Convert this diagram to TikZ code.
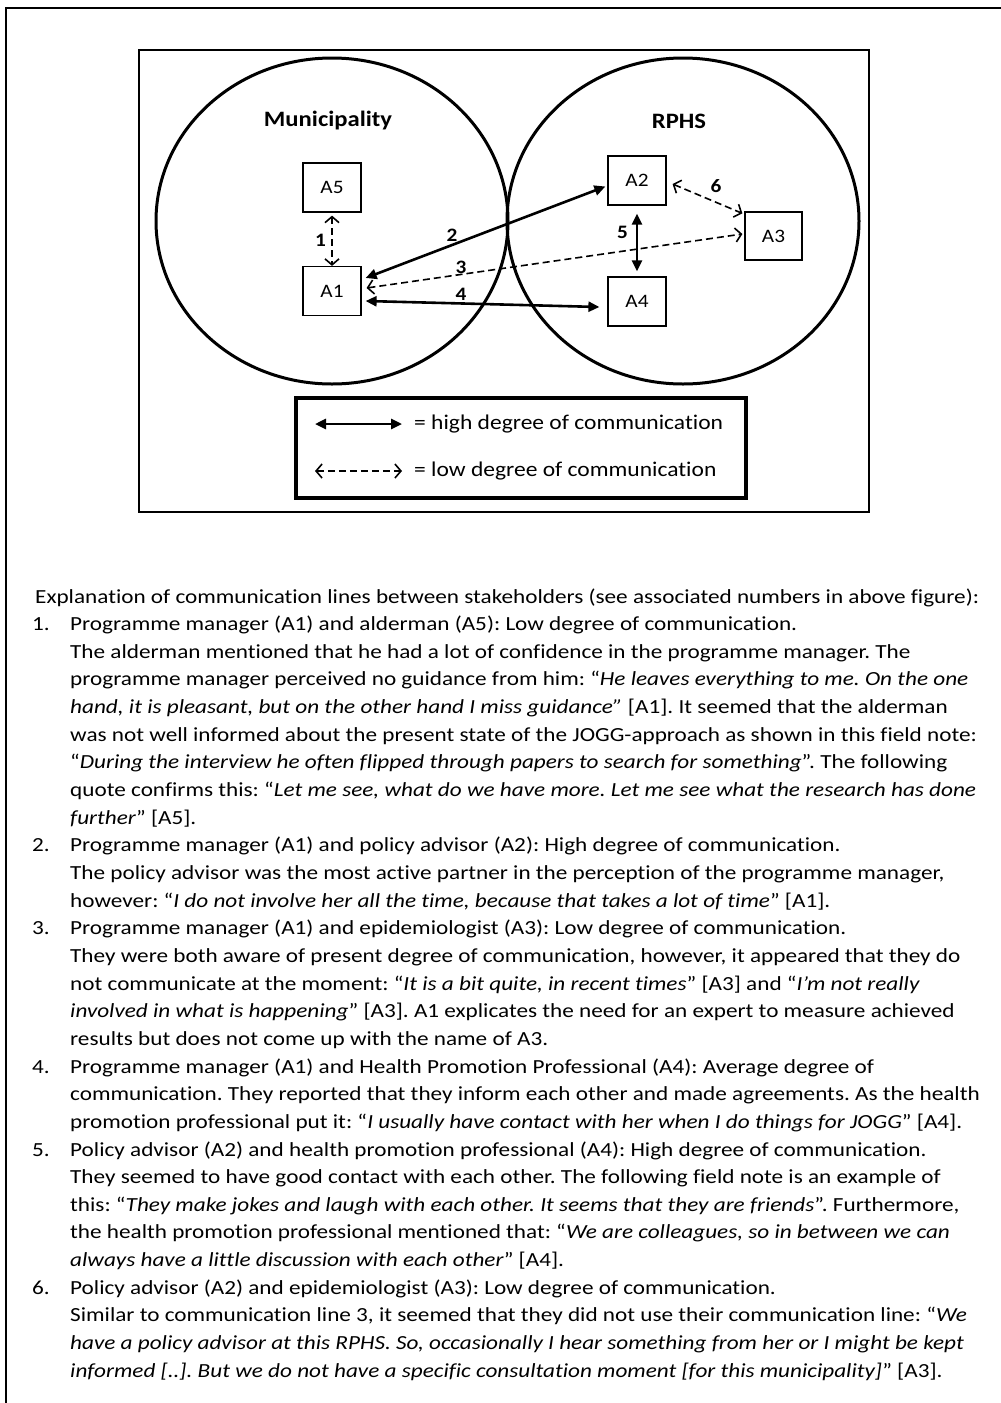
\documentclass[tikz,border=0pt]{standalone}
\usepackage{fontspec}
\setmainfont{Carlito}[FakeStretch=1.12, Ligatures=NoCommon]
\newfontfamily\bodyfont{Carlito}[FakeStretch=1.16, Ligatures=NoCommon]
\usetikzlibrary{arrows.meta,shapes.geometric}
\frenchspacing
\begin{document}
\begin{tikzpicture}[x=1pt,y=-1pt,
  frame/.style={line width=2pt},
  circ/.style={line width=3pt},
  actor/.style={draw, line width=1.2pt, minimum width=58pt, minimum height=49pt, inner sep=0pt, font=\fontsize{19}{21}\selectfont},
  hi/.style={line width=2.6pt, {Triangle[length=11pt,width=10pt]}-{Triangle[length=11pt,width=10pt]}},
  lo/.style={line width=1.6pt, dash pattern=on 7pt off 4pt, {Straight Barb[length=6pt,width=14pt,line width=1.6pt]}-{Straight Barb[length=6pt,width=14pt,line width=1.6pt]}},
  num/.style={inner sep=0pt, font=\bfseries\fontsize{19}{21}\selectfont},
  title/.style={inner sep=0pt, font=\bfseries\fontsize{22}{24}\selectfont},
  leg/.style={anchor=west, inner sep=0pt, font=\fontsize{21}{23}\selectfont},
  txt/.style={anchor=base west, inner sep=0pt, font=\bodyfont\fontsize{20}{22}\selectfont},
]
\useasboundingbox (0,0) rectangle (1001,1403);
% outer frame (top and left)
\coordinate (fl) at (6,1403);
\coordinate (ftl) at (6,8);
\coordinate (ftr) at (1001,8);
\draw[frame] (fl) -- (ftl) -- (ftr);
% figure box
\node[draw, line width=2pt, minimum width=730pt, minimum height=462pt, inner sep=0pt] (fig) at (504,281) {};
% circles
\node[draw, circ, ellipse, minimum width=352pt, minimum height=326pt, inner sep=0pt] (mun) at (332,221) {};
\node[draw, circ, ellipse, minimum width=352pt, minimum height=326pt, inner sep=0pt] (rphs) at (683,221) {};
\node[title] (munt) at (328,121) {Municipality};
\node[title] (rphst) at (679,121) {RPHS};
% actors
\node[actor] (A5) at (332,187.5) {A5};
\node[actor] (A1) at (332,291) {A1};
\node[actor] (A2) at (637,180.5) {A2};
\node[actor] (A4) at (637,301.5) {A4};
\node[actor, minimum width=57pt, minimum height=48pt] (A3) at (773.5,236) {A3};
% connectors
\draw[lo] ([yshift=-3pt]A5.south) -- (A1.north);
\draw[hi] ([xshift=4pt,yshift=13pt]A1.east) -- ([xshift=-2pt,yshift=-6pt]A2.west);
\draw[lo] ([xshift=5pt,yshift=3pt]A1.east) -- ([xshift=-2pt,yshift=2pt]A3.west);
\draw[hi] ([xshift=4pt,yshift=-10pt]A1.east) -- ([xshift=-8pt,yshift=-5.5pt]A4.west);
\draw[hi] ([yshift=-8pt]A2.south) -- ([yshift=5pt]A4.north);
\draw[lo] ([xshift=6pt,yshift=-3.5pt]A2.east) -- ([xshift=-2pt,yshift=-2pt]A3.north west);
\node[num] (n1) at (320.5,240) {1};
\node[num] (n2) at (452,235) {2};
\node[num] (n3) at (461,267) {3};
\node[num] (n4) at (461,294) {4};
\node[num] (n5) at (622.5,232) {5};
\node[num] (n6) at (716,186) {6};
% legend
\node[draw, line width=3.5pt, minimum width=450pt, minimum height=100pt, inner sep=0pt] (legbox) at (521,448) {};
\coordinate (h1) at (315,424);
\coordinate (h2) at (402,424);
\coordinate (l1) at (315,471);
\coordinate (l2) at (402,471);
\draw[hi] (h1) -- (h2);
\draw[lo] (l1) -- (l2);
\node[leg] (legh) at (414,424) {= high degree of communication};
\node[leg] (legl) at (414,471) {= low degree of communication};
% explanation text
\node[txt] (t0) at (35,603.0) {Explanation of communication lines between stakeholders (see associated numbers in above figure):};
\node[txt] (m1) at (32,630.65) {1.};
\node[txt] (t1) at (70,630.65) {Programme manager (A1) and alderman (A5): Low degree of communication.};
\node[txt] (t2) at (70,658.3) {The alderman mentioned that he had a lot of confidence in the programme manager. The};
\node[txt] (t3) at (70,685.95) {programme manager perceived no guidance from him: “\textit{He leaves everything to me. On the one}};
\node[txt] (t4) at (70,713.6) {\textit{hand, it is pleasant, but on the other hand I miss guidance”} [A1]. It seemed that the alderman};
\node[txt] (t5) at (70,741.25) {was not well informed about the present state of the JOGG-approach as shown in this field note:};
\node[txt] (t6) at (70,768.9) {“\textit{During the interview he often flipped through papers to search for something}”. The following};
\node[txt] (t7) at (70,796.55) {quote confirms this: “\textit{Let me see, what do we have more. Let me see what the research has done}};
\node[txt] (t8) at (70,824.2) {\textit{further}” [A5].};
\node[txt] (m2) at (32,851.85) {2.};
\node[txt] (t9) at (70,851.85) {Programme manager (A1) and policy advisor (A2): High degree of communication.};
\node[txt] (t10) at (70,879.5) {The policy advisor was the most active partner in the perception of the programme manager,};
\node[txt] (t11) at (70,907.15) {however: “\textit{I do not involve her all the time, because that takes a lot of time}” [A1].};
\node[txt] (m3) at (32,934.8) {3.};
\node[txt] (t12) at (70,934.8) {Programme manager (A1) and epidemiologist (A3): Low degree of communication.};
\node[txt] (t13) at (70,962.45) {They were both aware of present degree of communication, however, it appeared that they do};
\node[txt] (t14) at (70,990.1) {not communicate at the moment: “\textit{It is a bit quite, in recent times}” [A3] and “\textit{I’m not really}};
\node[txt] (t15) at (70,1017.75) {\textit{involved in what is happening}” [A3]. A1 explicates the need for an expert to measure achieved};
\node[txt] (t16) at (70,1045.4) {results but does not come up with the name of A3.};
\node[txt] (m4) at (32,1073.05) {4.};
\node[txt] (t17) at (70,1073.05) {Programme manager (A1) and Health Promotion Professional (A4): Average degree of};
\node[txt] (t18) at (70,1100.7) {communication. They reported that they inform each other and made agreements. As the health};
\node[txt] (t19) at (70,1128.35) {promotion professional put it: “\textit{I usually have contact with her when I do things for JOGG}” [A4].};
\node[txt] (m5) at (32,1156.0) {5.};
\node[txt] (t20) at (70,1156.0) {Policy advisor (A2) and health promotion professional (A4): High degree of communication.};
\node[txt] (t21) at (70,1183.65) {They seemed to have good contact with each other. The following field note is an example of};
\node[txt] (t22) at (70,1211.3) {this: “\textit{They make jokes and laugh with each other. It seems that they are friends}”. Furthermore,};
\node[txt] (t23) at (70,1238.95) {the health promotion professional mentioned that: “\textit{We are colleagues, so in between we can}};
\node[txt] (t24) at (70,1266.6) {\textit{always have a little discussion with each other}” [A4].};
\node[txt] (m6) at (32,1294.25) {6.};
\node[txt] (t25) at (70,1294.25) {Policy advisor (A2) and epidemiologist (A3): Low degree of communication.};
\node[txt] (t26) at (70,1321.9) {Similar to communication line 3, it seemed that they did not use their communication line: “\textit{We}};
\node[txt] (t27) at (70,1349.55) {\textit{have a policy advisor at this RPHS. So, occasionally I hear something from her or I might be kept}};
\node[txt] (t28) at (70,1377.2) {\textit{informed [..]. But we do not have a specific consultation moment [for this municipality]}” [A3].};
\end{tikzpicture}
\end{document}
